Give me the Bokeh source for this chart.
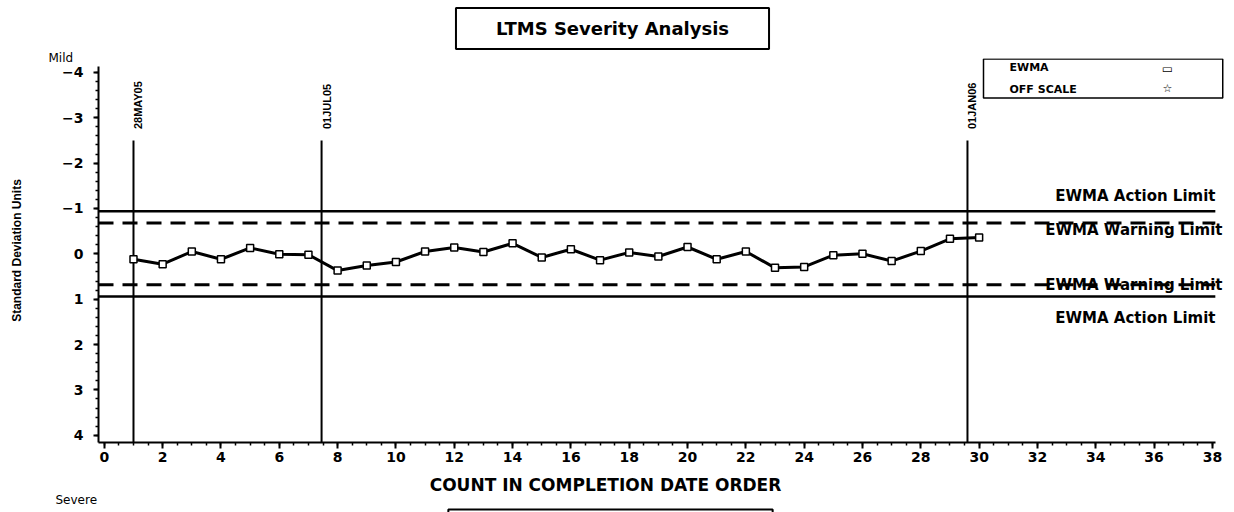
import math
from bokeh.plotting import figure
from bokeh.models import Range1d, SingleIntervalTicker, Label
from bokeh.core.properties import value
from bokeh.embed import file_html
from bokeh.resources import INLINE

# ---------------- data ----------------
count = list(range(1, 31))
ewma = [0.12, 0.23, -0.05, 0.12, -0.13, 0.01, 0.02, 0.37, 0.26, 0.18,
        -0.05, -0.14, -0.04, -0.23, 0.08, -0.10, 0.14, -0.03, 0.06, -0.15,
        0.12, -0.05, 0.31, 0.29, 0.03, 0.00, 0.16, -0.06, -0.33, -0.36]

action_limits = [-0.94, 0.94]
warning_limits = [-0.68, 0.68]

date_marks = [1.0, 7.45, 29.6]
date_labels = ["28MAY05", "01JUL05", "01JAN06"]

y_tick_values = [-4, -3, -2, -1, 0, 1, 2, 3, 4]
y_tick_labels = ["\u22124", "\u22123", "\u22122", "\u22121", "0", "1", "2", "3", "4"]

title_text = "LTMS Severity Analysis"
x_title = "COUNT IN COMPLETION DATE ORDER"
y_title = "Standard Deviation Units"

# ---------------- layout ----------------
W, H = 1234, 512
AX_X0, AX_X1 = -0.2, 38.1          # extent of the drawn x axis
AX_YT, AX_YB = -4.13, 4.16          # extent of the drawn y axis
PX_X, PX_Y = 29.16, 45.36           # pixels per data unit
FL, FT, FR, FB = 98, 58, 1226, 442  # frame edges in pixels
X0 = AX_X0
X1 = AX_X0 + (FR - FL) / PX_X
YB = AX_YB
YT = AX_YB - (FB - FT) / PX_Y

def dx(px):
    return X0 + (px - FL) / PX_X

def dy(py):
    return YT + (py - FT) / PX_Y

p = figure(width=W, height=H, x_range=Range1d(X0, X1), y_range=Range1d(YB, YT),
           output_backend="svg", toolbar_location=None,
           min_border_left=FL, min_border_top=FT,
           min_border_right=W - FR, min_border_bottom=H - FB)
p.outline_line_color = None
p.xgrid.grid_line_color = None
p.ygrid.grid_line_color = None
p.background_fill_color = "white"
p.border_fill_color = "white"

TICK_FONT = "DejaVu Sans"
NARROW = "Liberation Sans"

# x axis
xa = p.xaxis[0]
xa.bounds = (AX_X0, AX_X1)
xa.ticker = SingleIntervalTicker(interval=2, num_minor_ticks=4)
xa.major_label_text_font = TICK_FONT
xa.major_label_text_font_style = "bold"
xa.major_label_text_font_size = "14px"
xa.major_label_standoff = 3

# y axis
ya = p.yaxis[0]
ya.bounds = (AX_YT, AX_YB)
ya.ticker = SingleIntervalTicker(interval=1, num_minor_ticks=5)
ya.major_label_overrides = {v: s for v, s in zip(y_tick_values, y_tick_labels)}
ya.axis_label = y_title
ya.axis_label_text_font = NARROW
ya.axis_label_text_font_style = "bold"
ya.axis_label_text_font_size = "12px"
ya.axis_label_standoff = 35
ya.major_label_text_font = TICK_FONT
ya.major_label_text_font_style = "bold"
ya.major_label_text_font_size = "14px"
ya.major_label_standoff = 10

for ax in (xa, ya):
    ax.axis_line_width = 2
    ax.axis_line_color = "black"
    ax.major_tick_line_width = 2
    ax.major_tick_in = 0
    ax.major_tick_out = 6
    ax.minor_tick_line_width = 1.5
    ax.minor_tick_in = 0
    ax.minor_tick_out = 3
    ax.major_label_text_color = "black"
    ax.axis_label_text_color = "black"
ya.major_tick_out = 5

# limit lines
n_a, n_w = len(action_limits), len(warning_limits)
p.segment(x0=[AX_X0] * n_a, x1=[AX_X1] * n_a, y0=action_limits, y1=action_limits,
          line_color="black", line_width=2.5)
p.segment(x0=[AX_X0] * n_w, x1=[AX_X1] * n_w, y0=warning_limits, y1=warning_limits,
          line_color="black", line_width=3, line_dash="15 9")

# limit labels
lim_font = dict(text_font="DejaVu Sans", text_font_style="bold", text_font_size="15px",
                text_align="right", text_baseline="middle", text_color="black")
p.add_layout(Label(x=dx(1215), y=dy(195), text="EWMA Action Limit", **lim_font))
p.add_layout(Label(x=dx(1222), y=dy(229), text="EWMA Warning Limit", **lim_font))
p.add_layout(Label(x=dx(1222), y=dy(284), text="EWMA Warning Limit", **lim_font))
p.add_layout(Label(x=dx(1215), y=dy(317), text="EWMA Action Limit", **lim_font))

# date reference lines
p.segment(x0=date_marks, y0=[-2.5] * len(date_marks), x1=date_marks, y1=[AX_YB] * len(date_marks),
          line_color="black", line_width=2)
p.text(x=date_marks, y=[-2.75] * len(date_marks), text=date_labels, angle=math.pi / 2,
       x_offset=5, text_align="left", text_baseline="middle",
       text_font=value(NARROW), text_font_style="bold", text_font_size="11px",
       text_color="black")

# EWMA series
p.line(count, ewma, line_color="black", line_width=3)
p.scatter(count, ewma, marker="square", size=7, fill_color="white",
          line_color="black", line_width=1.5)

# legend box (inside the frame)
p.add_layout(Label(x=dx(983), y=dy(78), text="EWMA\nOFF SCALE", text_align="left",
                   text_baseline="middle", text_font="DejaVu Sans", text_font_style="bold",
                   text_font_size="11px", text_line_height=1.7, text_color="black",
                   border_line_color="black", border_line_width=1.5,
                   padding=dict(left=26, right=146, top=2, bottom=2)))
p.add_layout(Label(x=dx(1167), y=dy(68), text="\u25AD", text_align="center",
                   text_baseline="middle", text_font="DejaVu Sans", text_font_style="bold",
                   text_font_size="12px", text_color="black"))
p.add_layout(Label(x=dx(1167), y=dy(88), text="\u2606", text_align="center",
                   text_baseline="middle", text_font="DejaVu Sans",
                   text_font_size="11px", text_color="black"))

# title box and "Mild" (above panel)
p.add_layout(Label(x=dx(612), y=dy(28), text=title_text, text_align="center",
                   text_baseline="middle", text_font="DejaVu Sans", text_font_style="bold",
                   text_font_size="18px", text_color="black",
                   border_line_color="black", border_line_width=2,
                   padding=dict(left=40, right=40, top=10, bottom=10)), "above")
p.add_layout(Label(x=dx(48), y=dy(57), text="Mild", text_align="left", text_baseline="middle",
                   text_font="DejaVu Sans", text_font_size="12px", text_color="black"), "above")

# x title, Severe, footnote box (below panel)
p.add_layout(Label(x=dx(605), y=dy(484), text=x_title, text_align="center",
                   text_baseline="middle", text_font="DejaVu Sans", text_font_style="bold",
                   text_font_size="17px", text_color="black"), "below")
p.add_layout(Label(x=dx(55), y=dy(499), text="Severe", text_align="left", text_baseline="middle",
                   text_font="DejaVu Sans", text_font_size="12px", text_color="black"), "below")
p.add_layout(Label(x=dx(610), y=dy(509), text=" ", text_align="center", text_baseline="top",
                   text_font="DejaVu Sans", text_font_size="1px",
                   border_line_color="black", border_line_width=2,
                   padding=dict(left=162, right=162, top=1, bottom=8)), "below")

open("out.html", "w").write(file_html(p, INLINE))
